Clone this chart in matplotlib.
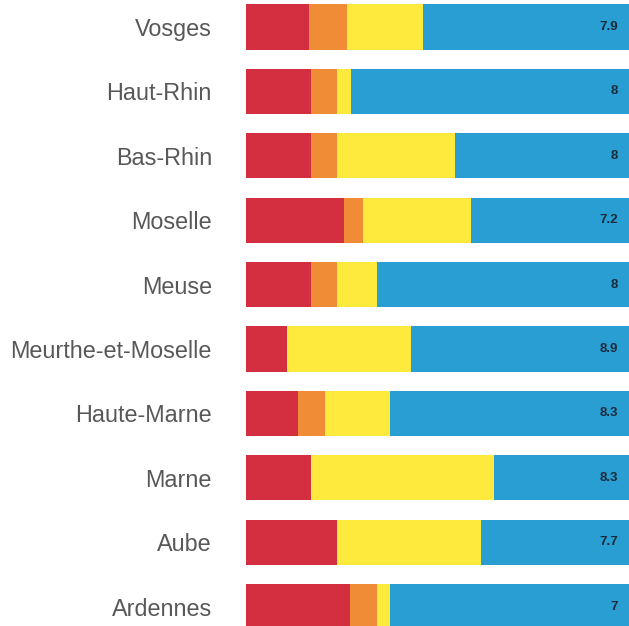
import matplotlib.pyplot as plt
import numpy as np

plt.rcParams['font.family'] = ['Liberation Sans', 'DejaVu Sans']

# Departments, top to bottom
departments = ["Vosges", "Haut-Rhin", "Bas-Rhin", "Moselle", "Meuse",
               "Meurthe-et-Moselle", "Haute-Marne", "Marne", "Aube", "Ardennes"]

# Segment shares (%)
red = [16.4, 17.0, 17.0, 25.5, 17.0, 10.8, 13.6, 17.0, 23.8, 27.2]
orange = [9.9, 6.8, 6.8, 5.1, 6.8, 0.0, 6.9, 0.0, 0.0, 6.9]
yellow = [19.8, 3.6, 30.8, 28.2, 10.4, 32.4, 17.1, 47.8, 37.6, 3.5]
blue = [53.9, 72.6, 45.4, 41.2, 65.8, 56.8, 62.4, 35.2, 38.6, 62.4]

# Value shown at the right of each bar
scores = ["7.9", "8", "8", "7.2", "8", "8.9", "8.3", "8.3", "7.7", "7"]

colors = ["#d32f40", "#f08c35", "#fdea3c", "#289ed2"]

W, H = 629, 626
fig = plt.figure(figsize=(W / 100, H / 100), dpi=100)
ax = fig.add_axes([246 / W, 0, (W - 246) / W, 1])

y = np.arange(len(departments))
left = np.zeros(len(departments))
for vals, c in zip([red, orange, yellow, blue], colors):
    ax.barh(y, vals, left=left, height=0.7, color=c, linewidth=0)
    left += np.array(vals)

for yi, s in zip(y, scores):
    ax.text(97.1, yi, s, ha="right", va="center", fontsize=9.5,
            fontweight="bold", color="#1b2a3a")

pitch = 64.4
ax.set_ylim((H - 27) / pitch, -27 / pitch)
ax.set_xlim(0, 100)
ax.set_yticks(y)
ax.set_yticklabels(departments, fontsize=16.8, color="#585858")
ax.tick_params(axis="y", length=0, pad=24.5)
ax.set_xticks([])
for sp in ax.spines.values():
    sp.set_visible(False)

fig.savefig("out.png", dpi=100)
